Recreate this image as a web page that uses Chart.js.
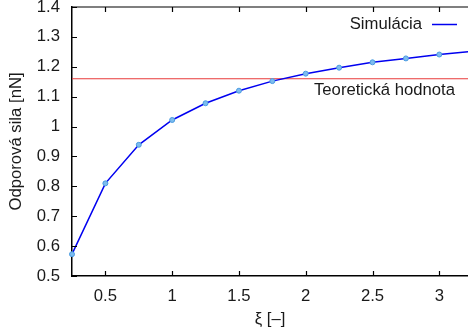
<!DOCTYPE html>
<html>
<head>
<meta charset="utf-8">
<script src="https://cdn.jsdelivr.net/npm/chart.js@4/dist/chart.umd.min.js"></script>
<style>
  html, body { margin: 0; padding: 0; background: #fff; }
  canvas { display: block; }
</style>
</head>
<body>
<canvas id="chart" width="468" height="332"></canvas>
<script>
// data
var xiValues = [0.25, 0.5, 0.75, 1, 1.25, 1.5, 1.75, 2, 2.25, 2.5, 2.75, 3, 3.25];
var forceValues = [0.573, 0.810, 0.939, 1.022, 1.078, 1.120, 1.152, 1.177, 1.197, 1.215, 1.228, 1.241, 1.252];
var theoryValue = 1.16;
var xTicks = [0.5, 1, 1.5, 2, 2.5, 3];
var yTicks = [0.5, 0.6, 0.7, 0.8, 0.9, 1, 1.1, 1.2, 1.3, 1.4];

var textColor = '#1a1a1a';
var font = { family: 'Liberation Sans, Arial, sans-serif', size: 16.7 };

// inner tick marks, top frame line and the two key texts (gnuplot style)
var framePlugin = {
    id: 'frame',
    afterDraw: function(chart) {
        var ctx = chart.ctx;
        var area = chart.chartArea;
        var xs = chart.scales.x;
        var ys = chart.scales.y;
        ctx.save();
        ctx.strokeStyle = '#000';
        ctx.lineWidth = 1.2;
        ctx.beginPath();
        ctx.moveTo(area.left, area.top);
        ctx.lineTo(area.right, area.top);
        xTicks.forEach(function(v) {
            var px = Math.round(xs.getPixelForValue(v)) + 0.5;
            ctx.moveTo(px, area.bottom);
            ctx.lineTo(px, area.bottom - 5);
            ctx.moveTo(px, area.top);
            ctx.lineTo(px, area.top + 5);
        });
        yTicks.forEach(function(v) {
            var py = Math.round(ys.getPixelForValue(v)) + 0.5;
            ctx.moveTo(area.left, py);
            ctx.lineTo(area.left + 5, py);
        });
        ctx.stroke();

        ctx.font = font.size + 'px ' + font.family;
        ctx.fillStyle = textColor;
        ctx.textAlign = 'right';
        ctx.textBaseline = 'middle';
        ctx.fillText('Simulácia', 422, 24);
        ctx.fillText('Teoretická hodnota', 455, 90);
        ctx.strokeStyle = '#0000f0';
        ctx.lineWidth = 1.5;
        ctx.beginPath();
        ctx.moveTo(432, 24.5);
        ctx.lineTo(457, 24.5);
        ctx.stroke();
        ctx.restore();
    }
};

new Chart(document.getElementById('chart'), {
    type: 'line',
    data: {
        datasets: [{
            label: 'Simulácia',
            data: xiValues.map(function(x, i) { return { x: x, y: forceValues[i] }; }),
            borderColor: '#0000f0',
            borderWidth: 1.5,
            pointRadius: 2.5,
            pointBackgroundColor: '#7dbcef',
            pointBorderColor: '#4b9be0',
            pointBorderWidth: 1,
            tension: 0,
            clip: false
        }, {
            label: 'Teoretická hodnota',
            data: [{ x: 0.25, y: theoryValue }, { x: 3.25, y: theoryValue }],
            borderColor: '#e83a3a',
            borderWidth: 1.2,
            pointRadius: 0,
            clip: false
        }]
    },
    options: {
        responsive: false,
        animation: false,
        devicePixelRatio: 1,
        layout: { autoPadding: false, padding: { top: 7, right: 0, left: 0, bottom: 0 } },
        plugins: { legend: { display: false }, tooltip: { enabled: false } },
        scales: {
            x: {
                type: 'linear',
                min: 0.25,
                max: 3.215,
                afterBuildTicks: function(scale) {
                    scale.ticks = xTicks.map(function(v) { return { value: v }; });
                },
                afterFit: function(scale) {
                    scale.height = 56;
                    scale.paddingLeft = 0;
                    scale.paddingRight = 0;
                },
                grid: { display: false, drawTicks: false },
                border: { display: true, color: '#000', width: 1.5 },
                ticks: {
                    padding: 10,
                    color: textColor,
                    font: font,
                    maxRotation: 0,
                    callback: function(v) { return String(+v.toFixed(2)); }
                },
                title: {
                    display: true,
                    text: 'ξ [–]',
                    color: textColor,
                    font: font,
                    padding: { top: 0, bottom: 3 }
                }
            },
            y: {
                min: 0.5,
                max: 1.4,
                afterBuildTicks: function(scale) {
                    scale.ticks = yTicks.map(function(v) { return { value: v }; });
                },
                afterFit: function(scale) {
                    scale.width = 72;
                    scale.paddingTop = 0;
                    scale.paddingBottom = 0;
                },
                grid: { display: false, drawTicks: false },
                border: { display: true, color: '#000', width: 1.5 },
                ticks: {
                    padding: 12,
                    color: textColor,
                    font: font,
                    callback: function(v) { return String(+v.toFixed(2)); }
                },
                title: {
                    display: true,
                    text: 'Odporová sila [nN]',
                    color: textColor,
                    font: font,
                    padding: { top: 6, bottom: 0 }
                }
            }
        }
    },
    plugins: [framePlugin]
});
</script>
</body>
</html>
